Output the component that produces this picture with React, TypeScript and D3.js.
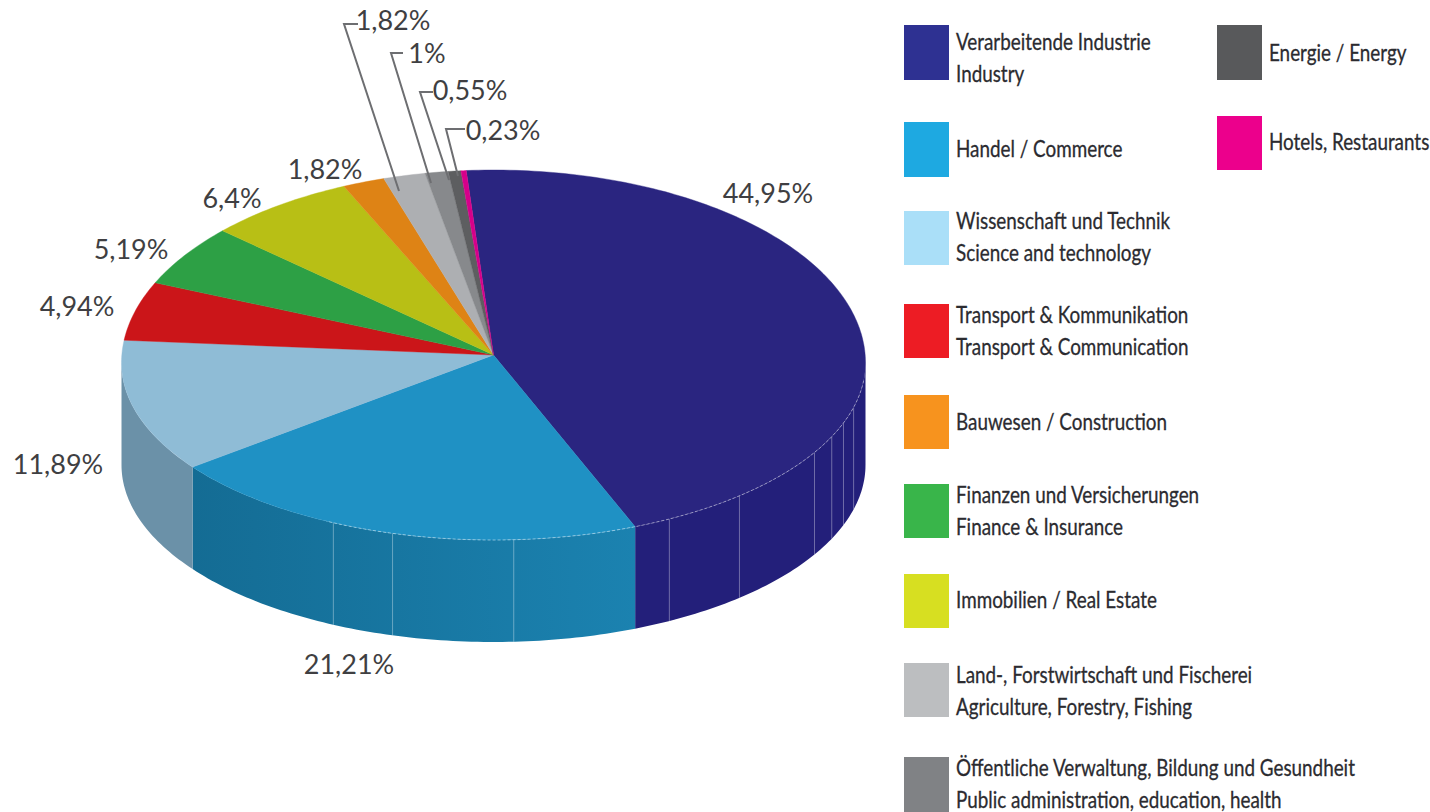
import React from "react";
import * as d3 from "d3";

const sectors = ["Industry","Commerce","Science","Transport","Finance","RealEstate","Construction","Agriculture","Public","Energy","Hotels"];
const shares = [44.95,21.21,11.89,4.94,5.19,6.4,1.82,1.82,1,0.55,0.23];
const shareLabels = ["44,95%","21,21%","11,89%","4,94%","5,19%","6,4%","1,82%","1,82%","1%","0,55%","0,23%"];
const topColors = ["#2a2580","#1f91c4","#8fbcd6","#cb1519","#2da045","#b8bf15","#de8315","#adafb2","#87898c","#5d5e60","#d6008a"];
const wallStart = ["#231f7a","#146c94","#6b91a8"];
const wallEnd = ["#231f7a","#1b82b0","#6b91a8"];
// wall seams expressed as cumulative share positions (%)
const seams = [30.2,31.67,33.0,34.6,39.67,43.33,50.3,55.54,58.25];

const legendNames = [
  ["Verarbeitende Industrie","Industry"],["Handel / Commerce"],["Wissenschaft und Technik","Science and technology"],
  ["Transport & Kommunikation","Transport & Communication"],["Bauwesen / Construction"],["Finanzen und Versicherungen","Finance & Insurance"],
  ["Immobilien / Real Estate"],["Land-, Forstwirtschaft und Fischerei","Agriculture, Forestry, Fishing"],
  ["Öffentliche Verwaltung, Bildung und Gesundheit","Public administration, education, health"],["Energie / Energy"],["Hotels, Restaurants"],
];
const legendColors = ["#2e3192","#1ea9e1","#aadff8","#ed1c24","#f7931e","#39b54a","#d7df21","#bcbec0","#808285","#58595b","#ec008c"];

// layout: the rim is drawn in perspective, so its back half is deeper than its front half
const hubX = 493.5, hubY = 355, rimY = 363, rx = 372, ryBack = 193, ryFront = 177, depth = 102;
const startDeg = -4.2;
const start = (startDeg * Math.PI) / 180;
const pct = d3.scaleLinear().domain([0, 100]).range([start, start + 2 * Math.PI]);
const px = (a: number) => hubX + rx * Math.sin(a);
const py = (a: number) => {
  const c = Math.cos(a);
  return rimY - (c > 0 ? ryBack : ryFront) * c;
};

const labelPos = [[768,203],[349,674],[58,474],[77,316],[131,259],[232,208],[325,179],[393,30],[427,63],[470,100],[503,140]];
const legendSlots: [number, number, number, number[]][] = [
  [904,25,55,[50,82]],[904,122,55,[157]],[904,211,54,[229,261]],[904,304,54,[323,355]],[904,395,54,[430]],
  [904,484,54,[503,535]],[904,574,54,[608]],[904,663,54,[683,715]],[904,757,55,[776,808]],[1217,25,55,[61]],[1217,116,54,[150]],
];
const leaders = [
  [[358,24],[344,24],[399,191]],
  [[403,53],[391,53],[431,183]],
  [[433,92],[420,92],[449,180]],
  [[465,129],[446,129],[458,176]],
];

const pieGen = d3.pie<number>().sort(null).startAngle(start).endAngle(start + 2 * Math.PI);
const arcs = pieGen(shares);
const lineGen = d3.line<[number, number]>().x(d => d[0]).y(d => d[1]);

function rimPoints(a0: number, a1: number, dy = 0) {
  const n = Math.max(4, Math.ceil((a1 - a0) * 60));
  return d3.range(0, n + 1).map(i => {
    const a = a0 + ((a1 - a0) * i) / n;
    return [px(a), py(a) + dy] as [number, number];
  });
}
const wallPath = (a0: number, a1: number) =>
  lineGen(rimPoints(a0, a1).concat(rimPoints(a0, a1, depth).reverse())) + "Z";
const topPath = (a0: number, a1: number) =>
  lineGen(([[hubX, hubY]] as [number, number][]).concat(rimPoints(a0, a1))) + "Z";

const font = "Lato, 'Open Sans', sans-serif";

export default function App() {
  const walls = arcs
    .map((d, i) => ({ i, a0: Math.max(d.startAngle, Math.PI / 2), a1: Math.min(d.endAngle, 1.5 * Math.PI) }))
    .filter(w => w.a1 > w.a0);
  return (
    <svg width={1430} height={812} style={{ position: "absolute", left: 0, top: 0, background: "#fff" }}>
      <defs>
        {walls.map(w => (
          <linearGradient key={w.i} id={`wall${w.i}`} gradientUnits="userSpaceOnUse" x1={px(w.a1)} x2={px(w.a0)} y1={0} y2={0}>
            <stop offset="0" stopColor={wallStart[w.i]} />
            <stop offset="1" stopColor={wallEnd[w.i]} />
          </linearGradient>
        ))}
      </defs>
      {walls.map(w => (
        <path key={sectors[w.i]} d={wallPath(w.a0, w.a1)} fill={`url(#wall${w.i})`} />
      ))}
      {seams.map(s => {
        const a = pct(s);
        return <line key={s} x1={px(a)} x2={px(a)} y1={py(a)} y2={py(a) + depth} stroke="#ffffff" strokeOpacity={0.35} strokeWidth={1} />;
      })}
      {arcs.map((d, i) => (
        <path key={sectors[i]} d={topPath(d.startAngle, d.endAngle)} fill={topColors[i]} stroke={topColors[i]} strokeWidth={0.4} />
      ))}
      <path d={lineGen(rimPoints(Math.PI / 2 + 0.1, pct(58.25) + 0.02)) || ""} fill="none" stroke="#ffffff" strokeOpacity={0.45} strokeWidth={1} strokeDasharray="3 2" />
      {leaders.map((pts, i) => (
        <path key={i} d={lineGen(pts as [number, number][]) || ""} fill="none" stroke="#6d6e71" strokeWidth={2} />
      ))}
      {shareLabels.map((t, i) => (
        <text key={i} x={labelPos[i][0]} y={labelPos[i][1]} textAnchor="middle" fontFamily={font} fontSize={27} fill="#3f3f42">{t}</text>
      ))}
      {legendNames.map((lines, i) => {
        const [x, y, h, bases] = legendSlots[i];
        return (
          <g key={i}>
            <rect x={x} y={y} width={45} height={h} fill={legendColors[i]} />
            {lines.map((t, j) => (
              <text key={j} transform={`translate(${x + 52},${bases[j]}) scale(0.82,1)`} fontFamily={font} fontSize={23} fill="#2b2b30" stroke="#2b2b30" strokeWidth={0.3}>{t}</text>
            ))}
          </g>
        );
      })}
    </svg>
  );
}
